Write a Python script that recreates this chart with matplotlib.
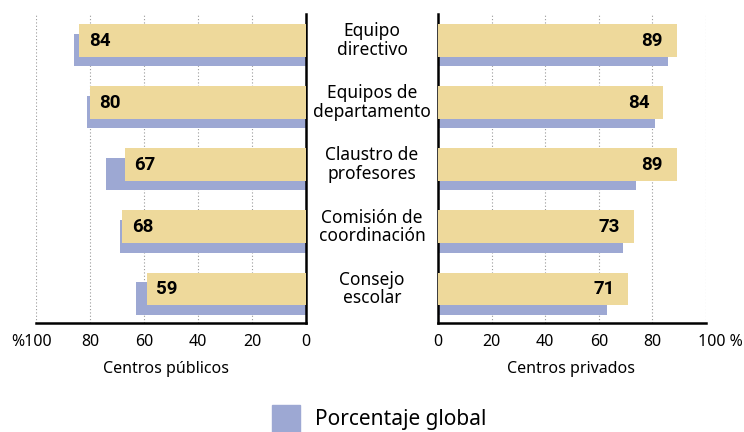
import matplotlib
matplotlib.use('Agg')
import matplotlib.pyplot as plt
import matplotlib.patches as mpatches

plt.rcParams['font.family'] = ['Noto Sans', 'DejaVu Sans']

categorias = ['Equipo\ndirectivo', 'Equipos de\ndepartamento', 'Claustro de\nprofesores',
              'Comisión de\ncoordinación', 'Consejo\nescolar']
publicos = [84, 80, 67, 68, 59]
privados = [89, 84, 89, 73, 71]
global_pct = [86, 81, 74, 69, 63]

amarillo = '#EED99B'
azul = '#9DA8D3'

fig = plt.figure(figsize=(7.44, 4.32), dpi=100)
axL = fig.add_axes([36/744, 1-323/432, 270/744, 309/432])
axR = fig.add_axes([438/744, 1-323/432, 268/744, 309/432])

pos = list(range(len(categorias)))
off = 0.153
hy = 0.53
hb = 0.52

for ax in (axL, axR):
    ax.barh([p + off for p in pos], global_pct, height=hb, color=azul, zorder=2)
    ax.set_ylim(4.548, -0.427)
    ax.set_xlim(0, 100)
    ax.set_xticks([0, 20, 40, 60, 80, 100])
    ax.set_yticks([])
    ax.tick_params(axis='x', length=0, pad=8, labelsize=11.5)
    ax.grid(axis='x', linestyle=(0, (1, 2)), color='#999999', linewidth=0.8, zorder=0)
    for s in ax.spines.values():
        s.set_visible(False)
    ax.spines['bottom'].set_visible(True)
    ax.spines['bottom'].set_linewidth(1.8)

axL.barh(pos, publicos, height=hy, color=amarillo, zorder=3)
axR.barh(pos, privados, height=hy, color=amarillo, zorder=3)

axL.invert_xaxis()
axL.spines['right'].set_visible(True)
axL.spines['right'].set_linewidth(1.8)
axR.spines['left'].set_visible(True)
axR.spines['left'].set_linewidth(1.8)

axL.set_xticklabels(['0', '20', '40', '60', '80', ''])
axR.set_xticklabels(['0', '20', '40', '60', '80', ''])
# etiquetas del 100 con el signo de porcentaje
axL.annotate('%100', xy=(100, 0), xycoords=('data', 'axes fraction'), xytext=(-3, -8),
             textcoords='offset points', ha='center', va='top', fontsize=11.5)
axR.annotate('100 %', xy=(100, 0), xycoords=('data', 'axes fraction'), xytext=(-6, -8),
             textcoords='offset points', ha='left', va='top', fontsize=11.5)

for p, v in zip(pos, publicos):
    axL.text(v - 3.5, p, str(v), ha='left', va='center', fontsize=13.5,
             fontweight='bold', family='Roboto', zorder=4)
for p, v in zip(pos, privados):
    axR.text(v - 5.0, p, str(v), ha='right', va='center', fontsize=13.5,
             fontweight='bold', family='Roboto', zorder=4)

for p, c in zip(pos, categorias):
    axR.text(-24.6, p, c, ha='center', va='center', fontsize=12.5,
             linespacing=1.05, clip_on=False)

fig.text(166/744, 1-369/432, 'Centros públicos', ha='center', va='center', fontsize=11.5)
fig.text(571/744, 1-369/432, 'Centros privados', ha='center', va='center', fontsize=11.5)

fig.patches.append(mpatches.Rectangle((272/744, 0), 28/744, 27/432,
                                      transform=fig.transFigure, color=azul))
fig.text(315/744, 1-420/432, 'Porcentaje global', ha='left', va='center', fontsize=15)

fig.savefig('out.png', dpi=100)
